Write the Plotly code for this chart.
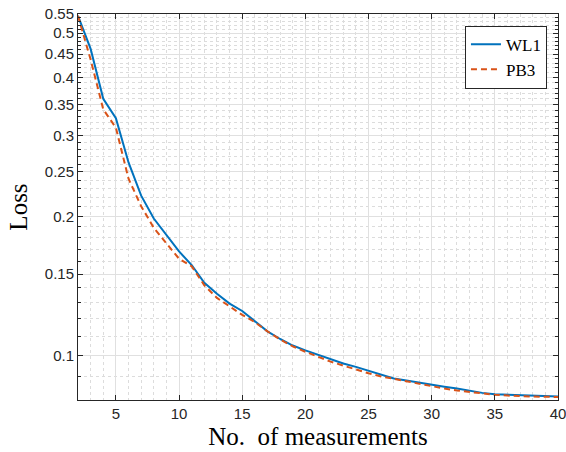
import plotly.graph_objects as go
import numpy as np

x_vals = list(range(2, 41))
wl1 = [0.545, 0.462, 0.360, 0.327, 0.262, 0.222, 0.198, 0.182, 0.168, 0.157,
       0.1436, 0.136, 0.1295, 0.1248, 0.1184, 0.1127, 0.1085, 0.105, 0.1025,
       0.1002, 0.0982, 0.0960, 0.0944, 0.0926, 0.0905, 0.0891, 0.0882, 0.0874,
       0.0864, 0.0855, 0.0847, 0.0837, 0.0829, 0.0823, 0.0821, 0.0819, 0.0816,
       0.0815, 0.0814]
pb3 = [0.545, 0.438, 0.3415, 0.3117, 0.2415, 0.2106, 0.189, 0.1748, 0.162, 0.156,
       0.1419, 0.1332, 0.1277, 0.1224, 0.118, 0.1127, 0.1082, 0.1046, 0.1018,
       0.0992, 0.0969, 0.095, 0.0931, 0.0914, 0.0900, 0.0889, 0.0876, 0.0867,
       0.0857, 0.0847, 0.0839, 0.0833, 0.0826, 0.0821, 0.0818, 0.0815, 0.0814,
       0.0813, 0.0812]

y_ticks = [0.1, 0.15, 0.2, 0.25, 0.3, 0.35, 0.4, 0.45, 0.5, 0.55]
y_ticktext = ["0.1", "0.15", "0.2", "0.25", "0.3", "0.35", "0.4", "0.45", "0.5", "0.55"]
y_minor = [round(0.08 + 0.01 * i, 2) for i in range(48)]
y_minor = [v for v in y_minor if all(abs(v - t) > 1e-9 for t in y_ticks)]
x_ticks = [5, 10, 15, 20, 25, 30, 35, 40]

axis_color = "#262626"
grid_major = "#e0e0e0"
grid_minor = "#dcdcdc"
tick_font = dict(family="Liberation Sans, Arial", size=15, color=axis_color)
label_font = dict(family="Liberation Serif, Times New Roman, serif", size=25, color="#000000")

fig = go.Figure()
fig.add_trace(go.Scatter(x=x_vals, y=wl1, mode="lines", name="WL1",
                         line=dict(color="#0072BD", width=2)))
fig.add_trace(go.Scatter(x=x_vals, y=pb3, mode="lines", name="PB3",
                         line=dict(color="#D95319", width=2, dash="6px,4px")))

fig.update_layout(
    width=566, height=452,
    margin=dict(l=78, r=8, t=14, b=52),
    paper_bgcolor="white", plot_bgcolor="white",
    showlegend=True,
    legend=dict(x=0.977, y=0.97, xanchor="right", yanchor="top",
                bgcolor="white", bordercolor="#262626", borderwidth=1,
                font=dict(family="Liberation Serif, Times New Roman, serif", size=17, color="#000000"),
                tracegroupgap=0, itemwidth=30),
)

fig.update_xaxes(
    range=[2, 40], tickmode="array", tickvals=x_ticks, automargin=False,
    ticklabeloverflow="allow",
    ticks="inside", ticklen=5, tickcolor=axis_color, tickwidth=1,
    showline=True, linecolor=axis_color, linewidth=1, mirror="ticks",
    showgrid=True, gridcolor=grid_major, gridwidth=1, zeroline=False,
    tickfont=tick_font,
    minor=dict(dtick=1, tick0=2, showgrid=True, gridcolor=grid_minor, griddash="dot",
               gridwidth=1, ticks="", ticklen=0),
    title=dict(text="No.  of measurements", font=label_font, standoff=6),
)

fig.update_yaxes(
    type="log", range=[np.log10(0.08), np.log10(0.55)], automargin=False,
    ticklabeloverflow="allow",
    tickmode="array", tickvals=y_ticks, ticktext=y_ticktext,
    ticks="inside", ticklen=5, tickcolor=axis_color, tickwidth=1,
    showline=True, linecolor=axis_color, linewidth=1, mirror="ticks",
    showgrid=True, gridcolor=grid_major, gridwidth=1, zeroline=False,
    tickfont=tick_font,
    minor=dict(tickmode="array", tickvals=y_minor, showgrid=True, gridcolor=grid_minor,
               griddash="dot", gridwidth=1, ticks="inside", ticklen=3, tickcolor=axis_color),
    title=dict(text="Loss", font=label_font, standoff=10),
)

fig.write_html("out.html")
